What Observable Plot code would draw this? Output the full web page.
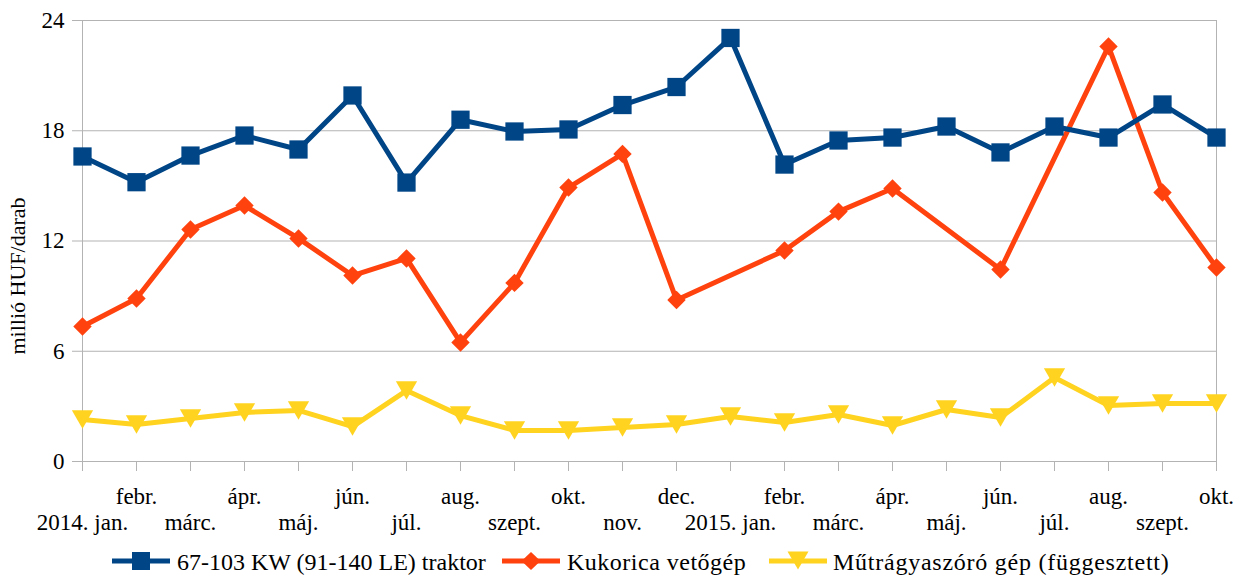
<!DOCTYPE html>
<html>
<head>
<meta charset="utf-8">
<script src="https://cdn.jsdelivr.net/npm/d3@7"></script>
<script src="https://cdn.jsdelivr.net/npm/@observablehq/plot@0.6"></script>
<style>
  body { margin: 0; background: #fff; font-family: 'Liberation Serif', serif; }
  #wrap { position: relative; width: 1240px; height: 577px; font-family: 'Liberation Serif', serif; }
  #wrap > svg { position: absolute; left: 0; top: 0; }
  #ytitle { position: absolute; left: 17.5px; top: 276px; transform: translate(-50%, -50%) rotate(-90deg); white-space: nowrap; font-size: 22px; line-height: 1; color: #000; }
  .lg-line { position: absolute; top: 551px; }
  .lg-text { position: absolute; top: 548px; font-size: 24px; line-height: 28px; white-space: nowrap; color: #000; }
  svg text { font-family: 'Liberation Serif', serif; }
</style>
</head>
<body>
<div id="wrap"></div>
<script>
const monthLabels = ["2014. jan.", "febr.", "márc.", "ápr.", "máj.", "jún.", "júl.", "aug.", "szept.", "okt.", "nov.", "dec.",
  "2015. jan.", "febr.", "márc.", "ápr.", "máj.", "jún.", "júl.", "aug.", "szept.", "okt."];
const seriesNames = ["67-103 KW (91-140 LE) traktor", "Kukorica vetőgép", "Műtrágyaszóró gép (függesztett)"];
const traktor = [16.6, 15.2, 16.65, 17.74, 16.98, 19.92, 15.18, 18.6, 17.96, 18.07, 19.4, 20.38,
  23.05, 16.16, 17.47, 17.63, 18.23, 16.82, 18.23, 17.63, 19.43, 17.63];
const vetogep = [7.35, 8.87, 12.63, 13.93, 12.14, 10.12, 11.05, 6.48, 9.72, 14.91, 16.74, 8.79,
  null, 11.48, 13.6, 14.86, null, 10.45, null, 22.59, 14.64, 10.56];
const mutragya = [2.29, 2.01, 2.34, 2.67, 2.78, 1.9, 3.86, 2.5, 1.69, 1.69, 1.85, 2.01,
  2.45, 2.12, 2.56, 1.96, 2.83, 2.39, 4.57, 3.05, 3.16, 3.16];
const yTicks = [0, 6, 12, 18, 24];
const yTitle = "millió HUF/darab";
const colors = ["#004586", "#ff420e", "#ffd320"];
const FONT = "'Liberation Serif', serif";

const triangleDown = {
  draw(ctx, size) {
    const s = Math.sqrt(size);
    const hw = s * 0.6, hh = s * 0.52;
    ctx.moveTo(-hw, -hh);
    ctx.lineTo(hw, -hh);
    ctx.lineTo(0, hh);
    ctx.closePath();
  }
};

const allSeries = [traktor, vetogep, mutragya];
const data = [];
allSeries.forEach((vals, s) => vals.forEach((v, i) => {
  if (v != null) data.push({series: seriesNames[s], i, v});
}));
const ofSeries = s => data.filter(d => d.series === seriesNames[s]);

const idx = d3.range(monthLabels.length);
const odd = idx.filter(i => i % 2 === 1);
const even = idx.filter(i => i % 2 === 0);
const gray = "#b3b3b3";

const chart = Plot.plot({
  width: 1240,
  height: 540,
  marginTop: 20,
  marginBottom: 79,
  marginLeft: 82,
  marginRight: 24,
  style: {fontFamily: FONT, fontSize: "23px", color: "#000", background: "transparent"},
  x: {type: "linear", domain: [0, monthLabels.length - 1], axis: null},
  y: {domain: [0, 24], axis: null},
  marks: [
    Plot.gridY(yTicks, {stroke: gray, strokeOpacity: 1}),
    Plot.ruleX([0, monthLabels.length - 1], {stroke: gray}),
    Plot.ruleY([0], {stroke: gray}),
    Plot.axisY(yTicks, {tickSize: 10, tickPadding: 8, stroke: gray, fill: "#000", fontSize: 23, fontFamily: FONT, label: null, tickFormat: d => String(d)}),
    Plot.axisX(idx, {tickSize: 10, stroke: gray, tickFormat: () => "", label: null}),
    Plot.axisX(odd, {tickSize: 0, tickPadding: 26, tickFormat: i => monthLabels[i], fill: "#000", fontSize: 23, fontFamily: FONT, label: null}),
    Plot.axisX(even, {tickSize: 0, tickPadding: 52, tickFormat: i => monthLabels[i], fill: "#000", fontSize: 23, fontFamily: FONT, label: null}),
    Plot.line(ofSeries(2), {x: "i", y: "v", stroke: colors[2], strokeWidth: 5}),
    Plot.line(ofSeries(1), {x: "i", y: "v", stroke: colors[1], strokeWidth: 5}),
    Plot.line(ofSeries(0), {x: "i", y: "v", stroke: colors[0], strokeWidth: 5}),
    Plot.dot(ofSeries(2), {x: "i", y: "v", fill: colors[2], symbol: triangleDown, r: 10}),
    Plot.dot(ofSeries(1), {x: "i", y: "v", fill: colors[1], symbol: "diamond2", r: 8.3}),
    Plot.dot(ofSeries(0), {x: "i", y: "v", fill: colors[0], symbol: "square", r: 10.3})
  ]
});

const wrap = document.getElementById("wrap");
wrap.appendChild(chart);

const title = document.createElement("div");
title.id = "ytitle";
title.textContent = yTitle;
wrap.appendChild(title);

const markerPaths = [
  '<rect x="20" y="1" width="18" height="18"/>',
  '<path d="M29 1 L38.5 10 L29 19 L19.5 10 Z"/>',
  '<path d="M18.5 0.5 L39.5 0.5 L29 18.5 Z"/>'
];
const lineLeft = [112, 502, 769];
const textLeft = [177, 567, 833];
const spacing = ["0px", "0.5px", "0.75px"];
seriesNames.forEach((name, s) => {
  const ln = document.createElement("div");
  ln.className = "lg-line";
  ln.style.left = lineLeft[s] + "px";
  ln.innerHTML = `<svg width="58" height="20" viewBox="0 0 58 20" style="display:block"><line x1="0" x2="58" y1="10" y2="10" stroke="${colors[s]}" stroke-width="5"/><g fill="${colors[s]}">${markerPaths[s]}</g></svg>`;
  wrap.appendChild(ln);
  const tx = document.createElement("div");
  tx.className = "lg-text";
  tx.style.left = textLeft[s] + "px";
  tx.style.letterSpacing = spacing[s];
  tx.textContent = name;
  wrap.appendChild(tx);
});
</script>
</body>
</html>
